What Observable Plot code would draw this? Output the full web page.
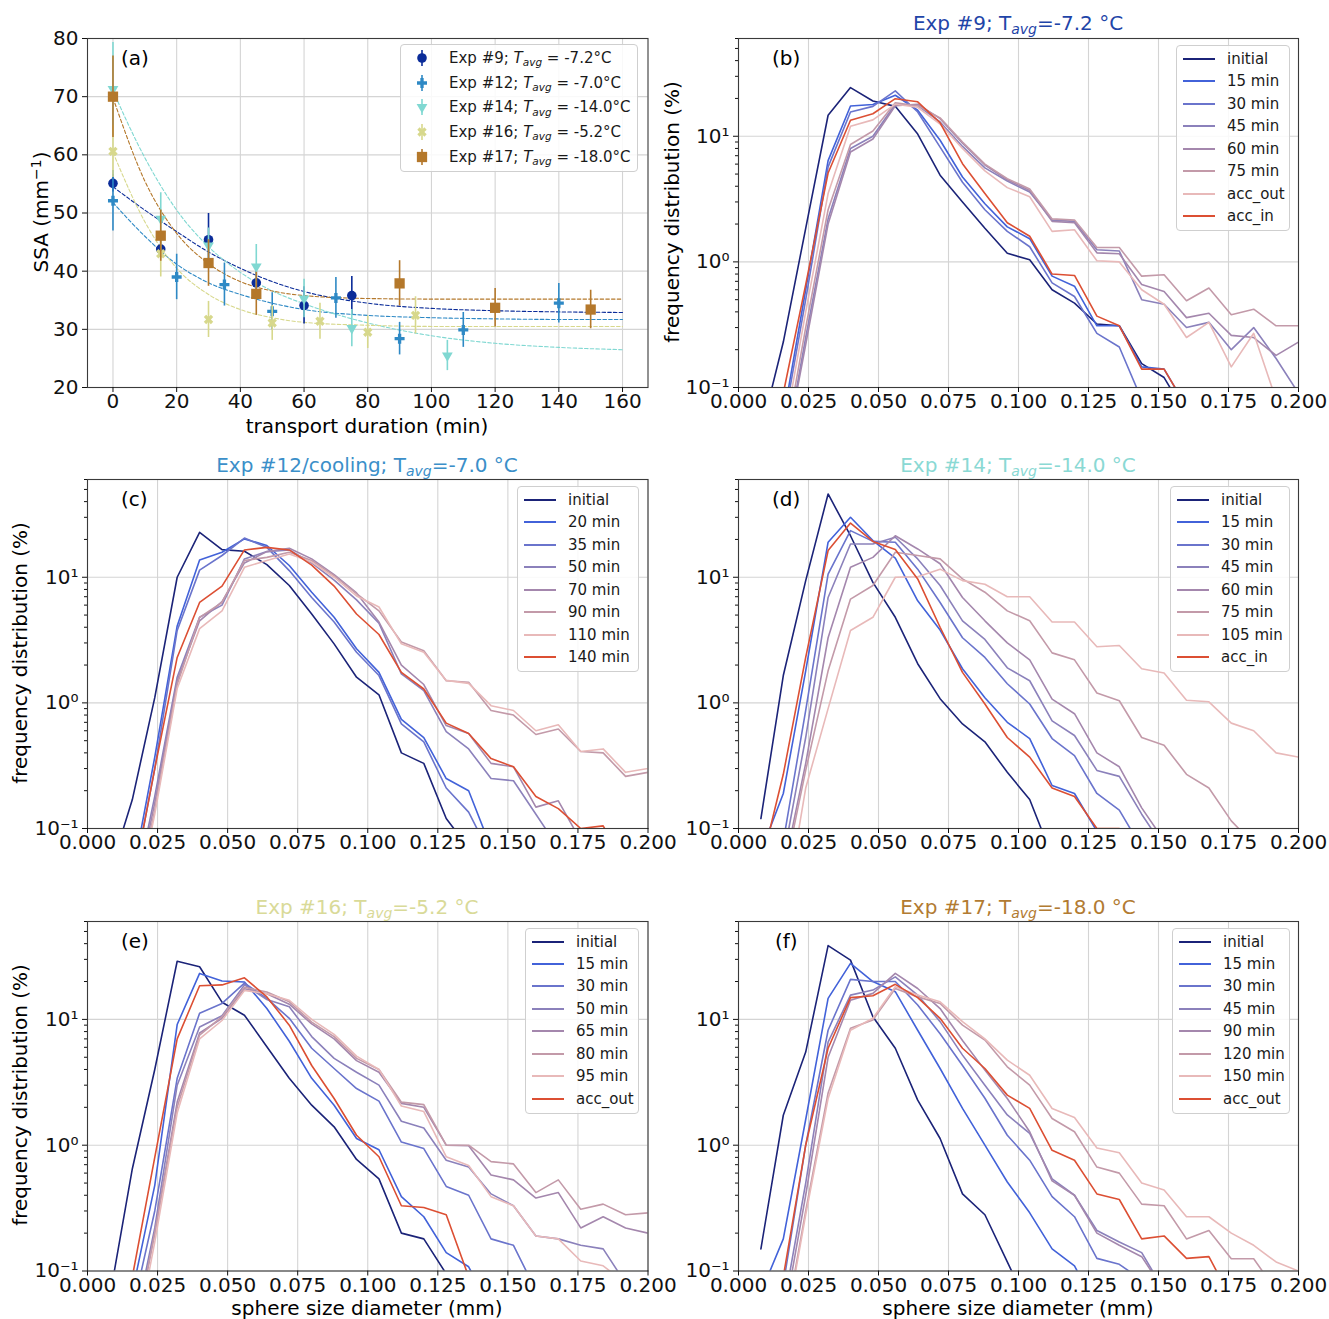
<!DOCTYPE html>
<html><head><meta charset="utf-8">
<script src="https://cdn.jsdelivr.net/npm/d3@7"></script>
<script src="https://cdn.jsdelivr.net/npm/@observablehq/plot@0.6"></script>
<style>
html,body{margin:0;padding:0;background:#fff}
#root{position:relative;width:1329px;height:1319px;overflow:hidden;background:#fff;font-family:"DejaVu Sans",sans-serif;color:#000}
#root svg{overflow:visible}
.lg{position:absolute;box-sizing:border-box;background:rgba(255,255,255,0.85);border:1px solid #cfcfcf;border-radius:4px}
.lg .row{position:absolute;left:0;right:0;height:22px;display:flex;align-items:center;font-size:15px;white-space:nowrap;color:#1a1a1a}
.sub{font-size:0.7em;position:relative;top:0.32em;font-style:italic}
.t{position:absolute;white-space:nowrap;line-height:1}
</style></head><body><div id="root"></div>
<script>
// ---------------- DATA ----------------
// panel (a): SSA vs transport duration
const t9 = [0, 15, 30, 45, 60, 75];
const ssa9 = [55.1, 43.8, 45.4, 38.0, 34.1, 35.8];
const err9 = [1.5, 1.5, 4.5, 2.0, 3.2, 3.3];
const t12 = [0, 20, 35, 50, 70, 90, 110, 140];
const ssa12 = [52.1, 39.0, 37.7, 33.1, 35.4, 28.4, 29.9, 34.5];
const err12 = [5.2, 3.9, 3.7, 3.2, 3.5, 2.8, 3.0, 3.4];
const t14 = [0, 15, 30, 45, 60, 75, 105];
const ssa14 = [71.3, 49.0, 44.4, 40.8, 35.3, 30.2, 25.5];
const err14 = [8.0, 4.5, 3.0, 3.8, 3.3, 3.2, 2.6];
const t16 = [0, 15, 30, 50, 65, 80, 95];
const ssa16 = [60.6, 43.0, 31.7, 31.1, 31.4, 29.5, 32.4];
const err16 = [4.5, 4.0, 3.1, 3.0, 3.1, 2.8, 3.2];
const t17 = [0, 15, 30, 45, 90, 120, 150];
const ssa17 = [70.0, 46.1, 41.4, 36.1, 37.9, 33.7, 33.4];
const err17 = [7.0, 4.4, 4.0, 3.7, 3.9, 3.3, 3.3];
// dashed fit curves
const fitT = [0, 10, 20, 30, 40, 50, 60, 80, 100, 120, 140, 160];
const fit9 = [54.5, 50.5, 46.8, 43.3, 40.5, 38.2, 36.5, 34.5, 33.6, 33.2, 33.0, 32.9];
const fit12 = [51.8, 46.0, 41.2, 38.0, 36.0, 34.5, 33.4, 32.4, 32.0, 31.8, 31.7, 31.7];
const fit14 = [71.0, 59.5, 50.5, 44.2, 39.8, 36.6, 34.4, 31.1, 28.9, 27.6, 26.9, 26.5];
const fit16 = [60.4, 48.5, 40.5, 36.0, 33.4, 32.0, 31.2, 30.7, 30.5, 30.5, 30.5, 30.5];
const fit17 = [69.8, 55.5, 46.5, 41.3, 38.2, 36.6, 35.8, 35.3, 35.2, 35.2, 35.2, 35.2];
const expNames = ["Exp #9", "Exp #12", "Exp #14", "Exp #16", "Exp #17"];
const expTemps = ["-7.2", "-7.0", "-14.0", "-5.2", "-18.0"];

// panels (b)-(f): frequency distribution vs sphere size diameter
const diameter = [0.008, 0.016, 0.024, 0.032, 0.040, 0.048, 0.056, 0.064, 0.072, 0.080, 0.088, 0.096, 0.104,
  0.112, 0.120, 0.128, 0.136, 0.144, 0.152, 0.160, 0.168, 0.176, 0.184, 0.192, 0.200];
const xTicksD = [0, 0.025, 0.05, 0.075, 0.1, 0.125, 0.15, 0.175, 0.2];
const yTicksD = [0.1, 1, 10];
const yMinorD = [0.2, 0.3, 0.4, 0.5, 0.6, 0.7, 0.8, 0.9, 2, 3, 4, 5, 6, 7, 8, 9, 20, 30, 40, 50, 60];

const bLabels = ["initial", "15 min", "30 min", "45 min", "60 min", "75 min", "acc_out", "acc_in"];
const bSeries = [
  [0.044, 0.23, 1.85, 14.7, 24.4, 19.1, 17.3, 10.4, 4.9, 3.0, 1.85, 1.17, 1.04, 0.6, 0.47, 0.32, 0.31, 0.155, 0.12, 0.06, null, null, null, null, null],
  [null, 0.057, 0.6, 6.4, 17.4, 17.9, 21.2, 16.1, 9.3, 4.74, 2.9, 1.9, 1.53, 0.77, 0.64, 0.31, 0.31, 0.146, 0.14, 0.07, null, null, null, null, null],
  [null, 0.05, 0.5, 5.7, 15.6, 17.3, 23.0, 15.6, 8.2, 4.3, 2.6, 1.75, 1.32, 0.68, 0.53, 0.27, 0.21, 0.08, null, null, null, null, null, null, null],
  [null, 0.025, 0.25, 2.2, 8.0, 10.0, 18.0, 17.5, 13.0, 8.3, 5.6, 4.4, 3.6, 2.15, 2.1, 1.25, 1.22, 0.5, 0.46, 0.30, 0.33, 0.2, 0.3, 0.17, 0.09],
  [null, 0.025, 0.22, 2.0, 7.5, 9.5, 17.5, 18.0, 13.8, 8.8, 5.9, 4.5, 3.7, 2.1, 2.05, 1.18, 1.16, 0.66, 0.58, 0.36, 0.39, 0.26, 0.25, 0.18, 0.23],
  [null, 0.03, 0.3, 2.6, 8.6, 11.0, 18.5, 17.5, 14.0, 9.0, 6.0, 4.6, 3.8, 2.2, 2.15, 1.3, 1.3, 0.77, 0.79, 0.49, 0.62, 0.38, 0.42, 0.31, 0.31],
  [null, 0.04, 0.4, 3.5, 12.0, 13.5, 18.0, 17.0, 12.5, 8.0, 5.3, 3.9, 3.3, 1.75, 1.8, 1.02, 1.0, 0.6, 0.46, 0.25, 0.33, 0.146, 0.27, 0.08, null],
  [null, 0.09, 0.66, 5.1, 13.4, 15.1, 19.9, 18.8, 12.8, 6.05, 3.5, 2.05, 1.6, 0.8, 0.78, 0.37, 0.31, 0.14, 0.14, 0.07, null, null, null, null, null]
];
const cLabels = ["initial", "20 min", "35 min", "50 min", "70 min", "90 min", "110 min", "140 min"];
const cSeries = [
  [0.045, 0.17, 1.1, 10.0, 22.8, 16.6, 16.1, 12.6, 8.6, 5.1, 2.95, 1.6, 1.16, 0.4, 0.33, 0.12, 0.07, null, null, null, null, null, null, null, null],
  [null, 0.042, 0.37, 4.1, 13.7, 15.8, 20.2, 17.9, 12.4, 7.6, 4.8, 2.7, 1.75, 0.74, 0.53, 0.25, 0.2, 0.07, null, null, null, null, null, null, null],
  [null, 0.035, 0.3, 3.77, 11.4, 14.9, 20.5, 17.3, 11.3, 6.9, 4.4, 2.53, 1.65, 0.68, 0.49, 0.21, 0.135, 0.06, null, null, null, null, null, null, null],
  [null, 0.025, 0.18, 1.6, 4.8, 6.0, 14.0, 16.0, 16.5, 13.0, 9.5, 6.6, 4.3, 1.7, 1.25, 0.59, 0.43, 0.25, 0.24, 0.13, 0.07, null, null, null, null],
  [null, 0.022, 0.16, 1.5, 4.5, 6.4, 13.0, 16.0, 17.0, 14.0, 10.5, 7.5, 4.4, 2.0, 1.4, 0.66, 0.57, 0.33, 0.31, 0.148, 0.166, 0.08, null, null, null],
  [null, 0.02, 0.14, 1.4, 4.8, 6.3, 13.6, 14.4, 15.8, 13.6, 10.3, 7.4, 5.4, 3.05, 2.6, 1.5, 1.46, 0.87, 0.8, 0.56, 0.62, 0.41, 0.40, 0.26, 0.28],
  [null, 0.018, 0.13, 1.3, 3.9, 5.4, 12.0, 13.6, 15.3, 13.2, 10.0, 7.1, 5.8, 2.95, 2.53, 1.51, 1.43, 0.95, 0.87, 0.6, 0.67, 0.41, 0.43, 0.28, 0.30],
  [null, 0.035, 0.3, 2.3, 6.3, 8.5, 16.5, 17.3, 16.5, 12.5, 8.5, 5.1, 3.5, 1.75, 1.29, 0.69, 0.57, 0.36, 0.31, 0.18, 0.144, 0.1, 0.105, 0.05, null]
];
const dLabels = ["initial", "15 min", "30 min", "45 min", "60 min", "75 min", "105 min", "acc_in"];
const dSeries = [
  [0.12, 1.65, 9.4, 46, 21.4, 9.1, 4.8, 2.05, 1.08, 0.68, 0.49, 0.28, 0.17, 0.06, null, null, null, null, null, null, null, null, null, null, null],
  [0.065, 0.19, 1.8, 19, 30, 19.6, 14.2, 6.5, 3.8, 1.87, 1.1, 0.7, 0.52, 0.22, 0.19, 0.095, null, null, null, null, null, null, null, null, null],
  [null, 0.079, 0.87, 10.6, 23.5, 19.3, 19.0, 11.6, 6.3, 3.3, 2.3, 1.42, 0.98, 0.52, 0.38, 0.19, 0.14, 0.07, null, null, null, null, null, null, null],
  [null, 0.058, 0.53, 6.9, 18.4, 18.4, 20.8, 14.0, 8.6, 4.5, 3.2, 1.9, 1.5, 0.72, 0.55, 0.29, 0.26, 0.13, 0.07, null, null, null, null, null, null],
  [null, 0.045, 0.33, 3.3, 12.0, 14.4, 21.4, 16.8, 12.8, 6.9, 4.5, 3.0, 2.2, 1.07, 0.82, 0.40, 0.31, 0.146, 0.08, null, null, null, null, null, null],
  [null, 0.04, 0.29, 1.8, 6.7, 8.6, 15.8, 14.9, 14.0, 9.7, 7.6, 5.4, 4.5, 2.5, 2.2, 1.2, 1.04, 0.53, 0.46, 0.27, 0.21, 0.115, 0.075, null, null],
  [null, 0.018, 0.21, 0.9, 3.77, 4.8, 10.0, 10.1, 11.6, 9.4, 8.8, 7.0, 7.0, 4.4, 4.4, 2.8, 2.86, 1.87, 1.73, 1.05, 1.02, 0.69, 0.6, 0.4, 0.37],
  [0.05, 0.27, 2.3, 16.3, 27.0, 19.3, 16.6, 9.7, 4.0, 1.75, 0.98, 0.53, 0.37, 0.21, 0.18, 0.1, 0.1, 0.05, null, null, null, null, null, null, null]
];
const eLabels = ["initial", "15 min", "30 min", "50 min", "65 min", "80 min", "95 min", "acc_out"];
const eSeries = [
  [0.063, 0.65, 4.0, 29, 26.2, 13.7, 10.8, 6.06, 3.4, 2.08, 1.4, 0.77, 0.54, 0.2, 0.18, 0.095, null, null, null, null, null, null, null, null, null],
  [null, 0.068, 0.48, 9.1, 23.2, 20.2, 19.8, 12.2, 6.7, 3.4, 2.08, 1.13, 0.92, 0.39, 0.27, 0.14, 0.108, 0.05, null, null, null, null, null, null, null],
  [null, 0.048, 0.3, 3.4, 11.2, 13.4, 19.4, 14.7, 10.2, 5.9, 4.07, 2.82, 2.24, 1.06, 0.94, 0.47, 0.4, 0.18, 0.16, 0.07, null, null, null, null, null],
  [null, 0.03, 0.22, 3.0, 8.7, 10.7, 18.8, 14.4, 12.6, 7.3, 4.9, 3.8, 3.0, 1.55, 1.37, 0.76, 0.67, 0.41, 0.33, 0.19, 0.18, 0.16, 0.15, 0.08, null],
  [null, 0.025, 0.2, 2.2, 7.8, 10.2, 17.5, 16.0, 13.2, 9.2, 7.0, 4.7, 3.8, 2.15, 2.0, 1.0, 0.99, 0.58, 0.53, 0.38, 0.42, 0.22, 0.27, 0.22, 0.2],
  [null, 0.025, 0.2, 2.0, 7.5, 10.5, 18.0, 16.5, 13.8, 9.5, 7.3, 4.9, 4.0, 2.2, 2.1, 1.0, 1.0, 0.74, 0.71, 0.42, 0.53, 0.31, 0.34, 0.28, 0.29],
  [null, 0.02, 0.17, 1.8, 7.0, 9.8, 17.0, 16.0, 14.2, 10.0, 7.6, 5.1, 4.0, 2.05, 1.85, 0.81, 0.69, 0.39, 0.33, 0.19, 0.18, 0.12, 0.11, 0.08, null],
  [null, 0.09, 0.8, 7.0, 18.5, 18.8, 21.4, 15.1, 9.0, 4.3, 2.35, 1.2, 0.81, 0.33, 0.32, 0.28, 0.09, null, null, null, null, null, null, null, null]
];
const fLabels = ["initial", "15 min", "30 min", "45 min", "90 min", "120 min", "150 min", "acc_out"];
const fSeries = [
  [0.15, 1.73, 5.5, 38.6, 29.6, 10.5, 5.9, 2.28, 1.13, 0.41, 0.28, 0.118, 0.05, null, null, null, null, null, null, null, null, null, null, null, null],
  [0.067, 0.18, 1.6, 14.7, 27.9, 20.0, 16.6, 8.2, 4.07, 1.96, 1.0, 0.51, 0.29, 0.15, 0.11, 0.05, null, null, null, null, null, null, null, null, null],
  [null, 0.078, 1.0, 8.2, 20.8, 20.0, 20.0, 13.0, 7.7, 4.3, 2.36, 1.2, 0.76, 0.39, 0.27, 0.126, 0.113, 0.085, null, null, null, null, null, null, null],
  [null, 0.05, 0.5, 6.6, 15.6, 17.1, 21.8, 15.6, 9.6, 5.2, 3.0, 1.74, 1.24, 0.54, 0.4, 0.21, 0.17, 0.14, 0.07, null, null, null, null, null, null],
  [null, 0.04, 0.4, 5.0, 14.2, 16.1, 23.2, 17.6, 12.2, 6.8, 3.95, 2.35, 1.28, 0.52, 0.4, 0.2, 0.16, 0.13, 0.07, null, null, null, null, null, null],
  [null, 0.03, 0.3, 2.6, 8.5, 9.9, 17.6, 15.1, 13.4, 9.0, 6.85, 4.2, 3.0, 1.63, 1.28, 0.67, 0.6, 0.34, 0.33, 0.18, 0.21, 0.125, 0.125, 0.07, null],
  [null, 0.028, 0.28, 2.35, 8.2, 10.2, 18.2, 15.6, 13.8, 9.6, 7.0, 4.74, 3.6, 1.96, 1.66, 0.95, 0.87, 0.5, 0.44, 0.27, 0.27, 0.2, 0.16, 0.118, 0.1],
  [null, 0.09, 1.0, 5.9, 14.9, 15.4, 19.0, 14.9, 10.2, 5.9, 4.07, 2.5, 1.96, 0.91, 0.76, 0.41, 0.37, 0.18, 0.19, 0.126, 0.13, 0.06, null, null, null]
];

// ---------------- STYLE ----------------
const lineColors = ["#1b2378", "#4262d9", "#6a74cc", "#8b81bb", "#a487ad", "#c39aa9", "#e8b9b9", "#dc4f33"];
const expColors = ["#0b2c99", "#2e89c5", "#80d8d2", "#d7d88c", "#b4782b"];
const gridColor = "#d4d4d4";
const frameColor = "#3a3a3a";
const baseStyle = {fontFamily: '"DejaVu Sans", sans-serif', fontSize: "20px", color: "#111", background: "transparent", overflow: "visible"};
const ML = 80, MR = 20, MT = 15, MB = 50;

const root = document.getElementById("root");
function put(node, left, top) {
  node.style.position = "absolute";
  node.style.left = left + "px";
  node.style.top = top + "px";
  root.appendChild(node);
}
function txt(html, x, y, {size = 20, color = "#000", rotate = 0, anchor = "center"} = {}) {
  const d = document.createElement("div");
  d.className = "t";
  d.innerHTML = html;
  d.style.fontSize = size + "px";
  d.style.color = color;
  d.style.left = x + "px";
  d.style.top = y + "px";
  d.style.transform = anchor === "left" ? "translate(0,-50%)" : `translate(-50%,-50%) rotate(${rotate}deg)`;
  root.appendChild(d);
}
const fmtLog = d => d === 0.1 ? "10\u207B\u00B9" : d === 1 ? "10\u2070" : "10\u00B9";

// ---------------- PANEL (a) ----------------
function panelA(rect) {
  const [x0, x1, y0, y1] = rect;
  const groups = [
    {t: t9, v: ssa9, e: err9, fit: fit9, symbol: "circle", r: 4.8, rotate: 0},
    {t: t12, v: ssa12, e: err12, fit: fit12, symbol: "cross", r: 4.2, rotate: 0},
    {t: t14, v: ssa14, e: err14, fit: fit14, symbol: "triangle", r: 4.0, rotate: 180},
    {t: t16, v: ssa16, e: err16, fit: fit16, symbol: "cross", r: 4.2, rotate: 45},
    {t: t17, v: ssa17, e: err17, fit: fit17, symbol: "square", r: 5.8, rotate: 0}
  ];
  const marks = [
    Plot.gridX({ticks: d3.range(0, 161, 20), stroke: gridColor, strokeOpacity: 1, strokeWidth: 1.1}),
    Plot.gridY({ticks: d3.range(20, 81, 10), stroke: gridColor, strokeOpacity: 1, strokeWidth: 1.1})
  ];
  groups.forEach((g, i) => {
    marks.push(Plot.line(fitT.map((t, j) => ({t, v: g.fit[j]})), {x: "t", y: "v", stroke: expColors[i], strokeWidth: 1.1, strokeDasharray: "3.5,2.2", curve: "monotone-x"}));
  });
  groups.forEach((g, i) => {
    const pts = g.t.map((t, j) => ({t, v: g.v[j], lo: g.v[j] - g.e[j], hi: g.v[j] + g.e[j]}));
    marks.push(Plot.ruleX(pts, {x: "t", y1: "lo", y2: "hi", stroke: expColors[i], strokeWidth: 1.6, clip: true}));
    marks.push(Plot.dot(pts, {x: "t", y: "v", symbol: g.symbol, r: g.r, rotate: g.rotate, fill: expColors[i], stroke: "none"}));
  });
  marks.push(Plot.frame({stroke: frameColor, strokeWidth: 1.1}));
  marks.push(Plot.axisX({ticks: d3.range(0, 161, 20), tickSize: 5, tickPadding: 1.5, label: null}));
  marks.push(Plot.axisY({ticks: d3.range(20, 81, 10), tickSize: 5, tickPadding: 4, label: null}));
  const svg = Plot.plot({
    width: x1 - x0 + ML + MR, height: y1 - y0 + MT + MB,
    marginLeft: ML, marginRight: MR, marginTop: MT, marginBottom: MB,
    x: {domain: [-8, 168]}, y: {domain: [20, 80]},
    style: baseStyle, marks
  });
  put(svg, x0 - ML, y0 - MT);

  // legend
  const lg = document.createElement("div");
  lg.className = "lg";
  lg.style.left = "400px"; lg.style.top = "44px"; lg.style.width = "238px"; lg.style.height = "128px";
  groups.forEach((g, i) => {
    const row = document.createElement("div");
    row.className = "row";
    row.style.top = (1 + i * 24.7) + "px";
    row.style.height = "24px";
    const size = Math.PI * g.r * g.r;
    const symType = {circle: d3.symbolCircle, cross: d3.symbolCross, triangle: d3.symbolTriangle, square: d3.symbolSquare}[g.symbol];
    const path = d3.symbol(symType, size)();
    row.innerHTML = `<svg width="44" height="24" style="flex:none"><line x1="21" x2="21" y1="4" y2="20" stroke="${expColors[i]}" stroke-width="1.6"/><path d="${path}" transform="translate(21,12) rotate(${g.rotate})" fill="${expColors[i]}"/></svg>` +
      `<span style="margin-left:4px">${expNames[i]}; <i>T</i><span class="sub">avg</span> = ${expTemps[i]}°C</span>`;
    lg.appendChild(row);
  });
  root.appendChild(lg);
}

// ---------------- PANELS (b)-(f) ----------------
function panelD(rect, series, labels, legendLeft, legendWidth) {
  const [x0, x1, y0, y1] = rect;
  const marks = [
    Plot.gridX({ticks: xTicksD, stroke: gridColor, strokeOpacity: 1, strokeWidth: 1.1}),
    Plot.gridY({ticks: yTicksD, stroke: gridColor, strokeOpacity: 1, strokeWidth: 1.1})
  ];
  series.forEach((vals, i) => {
    const pts = diameter.map((d, j) => ({d, v: vals[j]})).filter(p => p.v != null);
    marks.push(Plot.line(pts, {x: "d", y: "v", stroke: lineColors[i], strokeWidth: 1.6, clip: true}));
  });
  marks.push(Plot.frame({stroke: frameColor, strokeWidth: 1.1}));
  marks.push(Plot.axisX({ticks: xTicksD, tickFormat: d3.format(".3f"), tickSize: 5, tickPadding: 1.5, label: null}));
  marks.push(Plot.axisY({ticks: yTicksD, tickFormat: fmtLog, tickSize: 5, tickPadding: 4, label: null}));
  marks.push(Plot.axisY({ticks: yMinorD, tickFormat: () => "", tickSize: 3, label: null}));
  const svg = Plot.plot({
    width: x1 - x0 + ML + MR, height: y1 - y0 + MT + MB,
    marginLeft: ML, marginRight: MR, marginTop: MT, marginBottom: MB,
    x: {domain: [0, 0.2]}, y: {type: "log", domain: [0.1, 60]},
    style: baseStyle, marks
  });
  put(svg, x0 - ML, y0 - MT);

  const lg = document.createElement("div");
  lg.className = "lg";
  lg.style.left = legendLeft + "px"; lg.style.top = (y0 + 7) + "px";
  lg.style.width = legendWidth + "px"; lg.style.height = "186px";
  labels.forEach((lab, i) => {
    const row = document.createElement("div");
    row.className = "row";
    row.style.top = (2 + i * 22.43) + "px";
    row.innerHTML = `<svg width="50" height="22" style="flex:none"><line x1="6" x2="38" y1="11" y2="11" stroke="${lineColors[i]}" stroke-width="2"/></svg><span>${lab}</span>`;
    lg.appendChild(row);
  });
  root.appendChild(lg);
}

const rectA = [87, 647.5, 38, 387];
const rectB = [738, 1298, 38, 387];
const rectC = [87, 647.5, 479, 828];
const rectD = [738, 1298, 479, 828];
const rectE = [87, 647.5, 920.5, 1270];
const rectF = [738, 1298, 920.5, 1270];

panelA(rectA);
panelD(rectB, bSeries, bLabels, 1176, 114);
panelD(rectC, cSeries, cLabels, 517, 122);
panelD(rectD, dSeries, dLabels, 1170, 120);
panelD(rectE, eSeries, eLabels, 525, 114);
panelD(rectF, fSeries, fLabels, 1172, 118);

// titles
const sub = s => `<span class="sub">${s}</span>`;
txt(`Exp #9; T${sub("avg")}=-7.2 °C`, 1018, 23, {color: "#1f45a8"});
txt(`Exp #12/cooling; T${sub("avg")}=-7.0 °C`, 367, 465, {color: "#3b8fc9"});
txt(`Exp #14; T${sub("avg")}=-14.0 °C`, 1018, 465, {color: "#8ad9d4"});
txt(`Exp #16; T${sub("avg")}=-5.2 °C`, 367, 907, {color: "#d9da98"});
txt(`Exp #17; T${sub("avg")}=-18.0 °C`, 1018, 907, {color: "#b27b32"});

// axis labels
txt(`SSA (mm<sup style="font-size:0.7em">\u22121</sup>)`, 40, 212, {rotate: -90});
txt(`transport duration (min)`, 367, 426);
txt(`frequency distribution (%)`, 672, 212, {rotate: -90});
txt(`frequency distribution (%)`, 20, 653, {rotate: -90});
txt(`frequency distribution (%)`, 20, 1095, {rotate: -90});
txt(`sphere size diameter (mm)`, 367, 1308);
txt(`sphere size diameter (mm)`, 1018, 1308);

// panel letters
txt("(a)", 121, 58, {anchor: "left"});
txt("(b)", 772, 58, {anchor: "left"});
txt("(c)", 121, 499, {anchor: "left"});
txt("(d)", 772, 499, {anchor: "left"});
txt("(e)", 121, 941, {anchor: "left"});
txt("(f)", 775, 941, {anchor: "left"});
</script></body></html>
